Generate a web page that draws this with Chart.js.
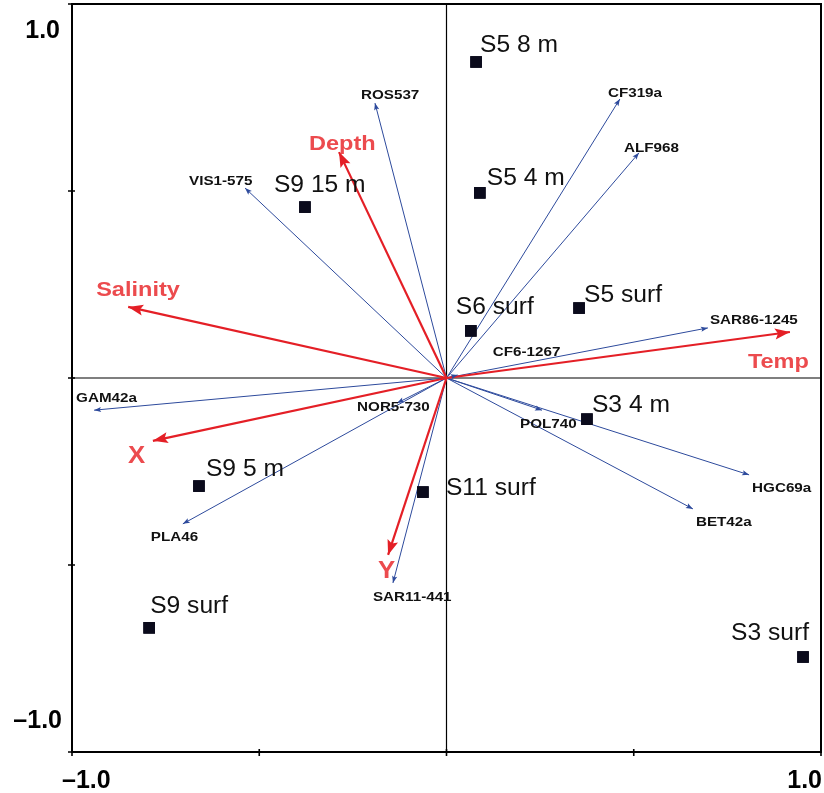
<!DOCTYPE html>
<html>
<head>
<meta charset="utf-8">
<script src="https://cdn.jsdelivr.net/npm/chart.js@4.4.1/dist/chart.umd.min.js"></script>
<style>
  html, body { margin: 0; padding: 0; background: #ffffff; }
  #wrap { width: 824px; height: 793px; }
</style>
</head>
<body>
<div id="wrap"><canvas id="c" width="824" height="793"></canvas></div>
<script>
// ---- Data ----
const siteNames = ["S5 8 m", "S5 4 m", "S9 15 m", "S6 surf", "S5 surf", "S3 4 m", "S11 surf", "S9 5 m", "S9 surf", "S3 surf"];
const siteX = [0.079, 0.089, -0.378, 0.065, 0.354, 0.375, -0.063, -0.661, -0.794, 0.952];
const siteY = [0.845, 0.495, 0.457, 0.126, 0.187, -0.110, -0.305, -0.289, -0.668, -0.746];

const speciesNames = ["ROS537", "CF319a", "ALF968", "VIS1-575", "SAR86-1245", "CF6-1267", "GAM42a", "NOR5-730", "POL740", "HGC69a", "BET42a", "PLA46", "SAR11-441"];
const speciesX = [-0.191, 0.463, 0.514, -0.538, 0.698, 0.030, -0.941, -0.132, 0.255, 0.808, 0.658, -0.704, -0.143];
const speciesY = [0.735, 0.746, 0.602, 0.508, 0.134, 0.008, -0.086, -0.067, -0.086, -0.259, -0.350, -0.390, -0.548];

const envNames = ["Depth", "Salinity", "Temp", "X", "Y"];
const envX = [-0.287, -0.850, 0.917, -0.784, -0.156];
const envY = [0.604, 0.190, 0.123, -0.168, -0.473];

const axisTicks = [-1, -0.5, 0, 0.5, 1];
const axisTickLabels = { "-1": "\u20131.0", "1": "1.0" };

// ---- Layout (label offsets in px from anchor: left, baseline) ----
const siteLabelOffsets = [[4,-10],[7,-8],[-31,-15],[-15,-17],[5,-6],[5,-7],[23,3],[7,-10],[1,-15],[-72,-17]];
const speciesLabelOffsets = [[-14,-4],[-12,-2],[-15,-1],[-56,-3],[2,-4],[35,-19],[-18,-8],[-40,8],[-22,18],[3,17],[3,17],[-32,17],[-20,18]];
const envLabelOffsets = [[-30,-2],[-32,-11],[-42,36],[-25,22],[-10,23]];

const BLUE = '#2d4a9c';
const RED = '#e41f26';
const RED_TEXT = '#ec4b4e';
const SQ = '#0b0b1c';
const FONT = '"Liberation Sans", Arial, Helvetica, sans-serif';

const datasets = [];
datasets.push({
  type: 'scatter',
  data: siteX.map((x, i) => ({ x: x, y: siteY[i] })),
  pointStyle: 'rect', pointRadius: 8.2, pointHoverRadius: 8.2,
  backgroundColor: SQ, borderColor: SQ, borderWidth: 0,
  showLine: false, order: 0
});
envX.forEach((x, i) => datasets.push({
  type: 'line', kind: 'env', idx: i,
  data: [{ x: 0, y: 0 }, { x: x, y: envY[i] }],
  borderColor: RED, borderWidth: 2.2, pointRadius: 0, fill: false, order: 1
}));
speciesX.forEach((x, i) => datasets.push({
  type: 'line', kind: 'sp', idx: i,
  data: [{ x: 0, y: 0 }, { x: x, y: speciesY[i] }],
  borderColor: BLUE, borderWidth: 1, pointRadius: 0, fill: false, order: 2
}));

function arrowHead(ctx, x0, y0, x1, y1, len, half, color) {
  const a = Math.atan2(y1 - y0, x1 - x0);
  ctx.save();
  ctx.translate(x1, y1);
  ctx.rotate(a);
  ctx.beginPath();
  ctx.moveTo(0, 0);
  ctx.lineTo(-len, -half);
  ctx.lineTo(-len * 0.8, 0);
  ctx.lineTo(-len, half);
  ctx.closePath();
  ctx.fillStyle = color;
  ctx.fill();
  ctx.restore();
}

function stretchedText(ctx, text, x, y, sx) {
  ctx.save();
  ctx.translate(x, y);
  ctx.scale(sx, 1);
  ctx.fillText(text, 0, 0);
  ctx.restore();
}

const framePlugin = {
  id: 'frame',
  beforeDatasetsDraw(chart) {
    const ctx = chart.ctx, xs = chart.scales.x, ys = chart.scales.y;
    const L = xs.getPixelForValue(-1), R = xs.getPixelForValue(1);
    const T = ys.getPixelForValue(1), B = ys.getPixelForValue(-1);
    const x0 = xs.getPixelForValue(0), y0 = ys.getPixelForValue(0);
    ctx.save();
    ctx.strokeStyle = '#000';
    ctx.lineWidth = 1.2;
    ctx.beginPath();
    ctx.moveTo(x0, T); ctx.lineTo(x0, B);
    ctx.moveTo(L, y0); ctx.lineTo(R, y0);
    ctx.stroke();
    ctx.lineWidth = 2;
    ctx.strokeRect(L, T, R - L, B - T);
    ctx.lineWidth = 1.6;
    ctx.beginPath();
    axisTicks.forEach(v => {
      const py = ys.getPixelForValue(v);
      ctx.moveTo(L - 4, py); ctx.lineTo(L + 3, py);
      const px = xs.getPixelForValue(v);
      ctx.moveTo(px, B - 3); ctx.lineTo(px, B + 4);
    });
    ctx.stroke();
    ctx.fillStyle = '#000';
    ctx.font = 'bold 25px ' + FONT;
    ctx.textBaseline = 'alphabetic';
    ctx.textAlign = 'right';
    ctx.fillText(axisTickLabels["1"], L - 12, T + 34);
    ctx.fillText(axisTickLabels["-1"], L - 10, B - 24);
    ctx.textAlign = 'left';
    ctx.fillText(axisTickLabels["-1"], L - 10, B + 36);
    ctx.textAlign = 'right';
    ctx.fillText(axisTickLabels["1"], R + 1, B + 36);
    ctx.restore();
  },
  afterDatasetsDraw(chart) {
    const ctx = chart.ctx, xs = chart.scales.x, ys = chart.scales.y;
    const ox = xs.getPixelForValue(0), oy = ys.getPixelForValue(0);
    ctx.save();
    speciesX.forEach((v, i) => {
      const px = xs.getPixelForValue(v), py = ys.getPixelForValue(speciesY[i]);
      arrowHead(ctx, ox, oy, px, py, 7, 2.6, BLUE);
    });
    envX.forEach((v, i) => {
      const px = xs.getPixelForValue(v), py = ys.getPixelForValue(envY[i]);
      arrowHead(ctx, ox, oy, px, py, 15, 5.5, RED);
    });
    ctx.fillStyle = SQ;
    siteX.forEach((v, i) => {
      const px = xs.getPixelForValue(v), py = ys.getPixelForValue(siteY[i]);
      ctx.fillRect(px - 5.8, py - 5.8, 11.6, 11.6);
    });
    ctx.textAlign = 'left';
    ctx.textBaseline = 'alphabetic';
    ctx.fillStyle = '#111';
    ctx.font = 'bold 13px ' + FONT;
    speciesNames.forEach((n, i) => {
      const px = xs.getPixelForValue(speciesX[i]), py = ys.getPixelForValue(speciesY[i]);
      stretchedText(ctx, n, px + speciesLabelOffsets[i][0], py + speciesLabelOffsets[i][1], 1.17);
    });
    ctx.fillStyle = RED_TEXT;
    envNames.forEach((n, i) => {
      const px = xs.getPixelForValue(envX[i]), py = ys.getPixelForValue(envY[i]);
      ctx.font = 'bold ' + (n.length === 1 ? 23 : 21) + 'px ' + FONT;
      stretchedText(ctx, n, px + envLabelOffsets[i][0], py + envLabelOffsets[i][1], 1.12);
    });
    ctx.fillStyle = '#111';
    ctx.font = '23px ' + FONT;
    siteNames.forEach((n, i) => {
      const px = xs.getPixelForValue(siteX[i]), py = ys.getPixelForValue(siteY[i]);
      stretchedText(ctx, n, px + siteLabelOffsets[i][0], py + siteLabelOffsets[i][1], 1.07);
    });
    ctx.restore();
  }
};

new Chart(document.getElementById('c'), {
  type: 'scatter',
  data: { datasets: datasets },
  options: {
    responsive: false,
    animation: false,
    events: [],
    layout: { autoPadding: false, padding: { left: 72, top: 4, right: 3, bottom: 41 } },
    plugins: { legend: { display: false }, tooltip: { enabled: false } },
    scales: {
      x: { type: 'linear', min: -1, max: 1, display: false },
      y: { type: 'linear', min: -1, max: 1, display: false }
    }
  },
  plugins: [framePlugin]
});
</script>
</body>
</html>
